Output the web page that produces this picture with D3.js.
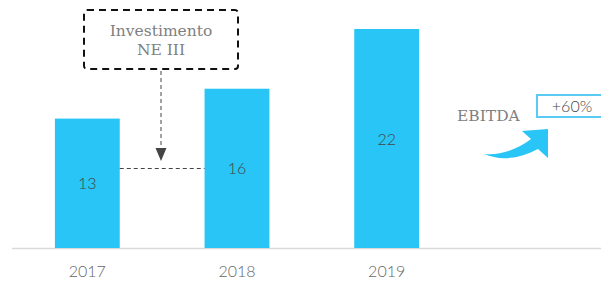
<!DOCTYPE html>
<html>
  <head>
    <meta charset="UTF-8" />
    <title>EBITDA</title>
    <script src="https://d3js.org/d3.v7.min.js"></script>
    <style>
      body { margin: 0; background: #fff; }
    </style>
  </head>
  <body>
    <div id="chart"></div>
    <script>
      // data
      const years = ["2017", "2018", "2019"];
      const values = [13, 16, 22];
      const noteLines = ["Investimento", "NE III"];
      const growthLabel = "EBITDA";
      const growthValue = "+60%";

      const width = 601, height = 283;
      const baseY = 248, topY = 29;

      const svg = d3.select("#chart").append("svg")
        .attr("width", width).attr("height", height);

      const x = d3.scaleBand()
        .domain(years)
        .range([12.5, 461.5])
        .paddingInner(0.5667)
        .paddingOuter(0.2833);

      const y = d3.scaleLinear()
        .domain([0, d3.max(values)])
        .range([baseY, topY]);

      const data = years.map((d, i) => ({ year: d, value: values[i] }));

      // baseline
      svg.append("line")
        .attr("x1", 12).attr("x2", width)
        .attr("y1", baseY + 0.5).attr("y2", baseY + 0.5)
        .attr("stroke", "#d9d9d9").attr("stroke-width", 1.5);

      // bars
      svg.selectAll("rect.bar").data(data).enter().append("rect")
        .attr("class", "bar")
        .attr("x", d => x(d.year))
        .attr("width", x.bandwidth())
        .attr("y", d => y(d.value))
        .attr("height", d => baseY - y(d.value))
        .attr("fill", "#29c5f6");

      // bar values
      svg.selectAll("text.val").data(data).enter().append("text")
        .attr("class", "val")
        .attr("x", d => x(d.year) + x.bandwidth() / 2)
        .attr("y", d => (y(d.value) + baseY) / 2 + 6)
        .attr("text-anchor", "middle")
        .attr("font-family", "Lato")
        .attr("font-weight", 300)
        .attr("font-size", 16)
        .attr("fill", "#444")
        .text(d => d.value);

      // x axis labels
      const xAxis = svg.append("g")
        .attr("transform", `translate(0,${baseY})`)
        .call(d3.axisBottom(x).tickSize(0).tickPadding(18));
      xAxis.select(".domain").remove();
      xAxis.selectAll("text")
        .attr("font-family", "Lato")
        .attr("font-weight", 300)
        .attr("font-size", 16)
        .attr("fill", "#666");

      // annotation box
      const bx = 84, by = 10, bw = 154, bh = 59;
      const cx = bx + bw / 2;
      svg.append("rect")
        .attr("x", bx).attr("y", by).attr("width", bw).attr("height", bh)
        .attr("rx", 3)
        .attr("fill", "none").attr("stroke", "#111")
        .attr("stroke-width", 2).attr("stroke-dasharray", "7 5");

      svg.selectAll("text.note").data(noteLines).enter().append("text")
        .attr("class", "note")
        .attr("x", cx)
        .attr("y", (d, i) => 36 + i * 19)
        .attr("text-anchor", "middle")
        .attr("font-family", "DejaVu Serif")
        .attr("font-size", 15.5)
        .attr("fill", "#808080")
        .text(d => d);

      // vertical dashed connector and arrowhead
      svg.append("line")
        .attr("x1", cx).attr("x2", cx)
        .attr("y1", by + bh + 2).attr("y2", 148)
        .attr("stroke", "#444").attr("stroke-width", 1)
        .attr("stroke-dasharray", "4 3");
      svg.append("path")
        .attr("d", `M${cx - 5.5},148 L${cx + 5.5},148 L${cx},161 Z`)
        .attr("fill", "#444");

      // horizontal dashed line between bars
      svg.append("line")
        .attr("x1", x("2017") + x.bandwidth()).attr("x2", x("2018"))
        .attr("y1", 168.5).attr("y2", 168.5)
        .attr("stroke", "#444").attr("stroke-width", 1)
        .attr("stroke-dasharray", "4 3");

      // EBITDA growth
      svg.append("text")
        .attr("x", 457).attr("y", 121)
        .attr("font-family", "DejaVu Serif")
        .attr("font-size", 15.5)
        .attr("fill", "#808080")
        .text(growthLabel);

      svg.append("rect")
        .attr("x", 537).attr("y", 95).attr("width", 72).attr("height", 22)
        .attr("fill", "#fff").attr("stroke", "#5ccbf3").attr("stroke-width", 2);
      svg.append("text")
        .attr("x", 572).attr("y", 112)
        .attr("text-anchor", "middle")
        .attr("font-family", "Lato")
        .attr("font-weight", 300)
        .attr("font-size", 16)
        .attr("fill", "#444")
        .text(growthValue);

      // curved arrow
      svg.append("path")
        .attr("d", "M484,154 C500,161 520,159 538,149 L548,158 L548,129 L522,131 L531,139 C518,149 500,156 484,154 Z")
        .attr("fill", "#29c5f6");
    </script>
  </body>
</html>
